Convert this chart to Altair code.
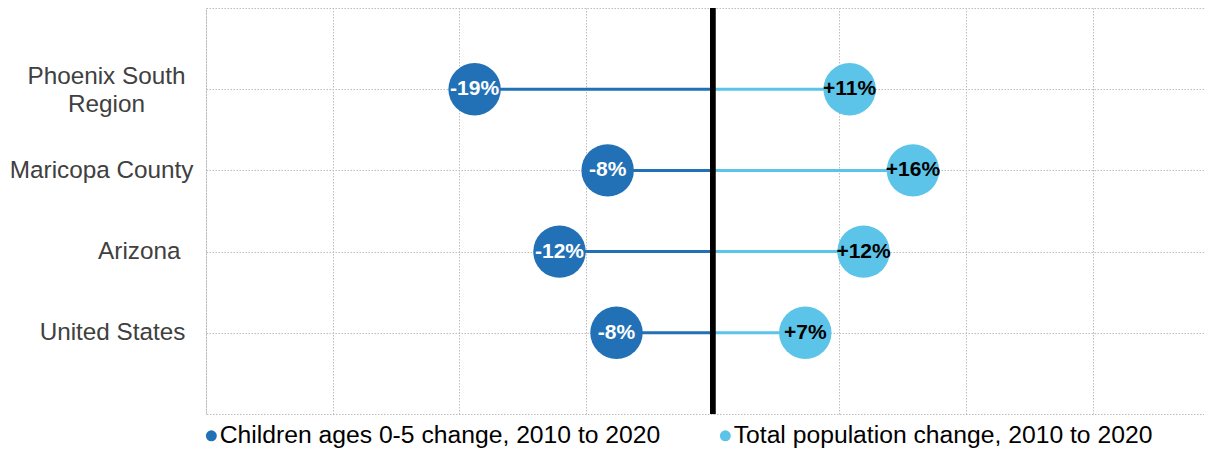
import altair as alt
import pandas as pd

regions = ["Phoenix South Region", "Maricopa County", "Arizona", "United States"]
children_change = [-18.8, -8.3, -12.1, -7.6]
total_change = [10.8, 15.8, 11.9, 7.3]
children_text = ["-19%", "-8%", "-12%", "-8%"]
total_text = ["+11%", "+16%", "+12%", "+7%"]
series_names = ["Children ages 0-5 change, 2010 to 2020",
                "Total population change, 2010 to 2020"]
grid_ticks = [-40, -30, -20, -10, 0, 10, 20, 30]

DARK = "#2271b7"
LIGHT = "#5bc4e8"
GRID = "#bdbdbd"

wide = pd.DataFrame({
    "region": regions,
    "children": children_change,
    "total": total_change,
    "ctext": children_text,
    "ttext": total_text,
})
long = pd.DataFrame({
    "region": regions + regions,
    "value": children_change + total_change,
    "series": [series_names[0]] * 4 + [series_names[1]] * 4,
})

xscale = alt.Scale(domain=[-40, 38.77], nice=False, zero=False)


def X(field):
    return alt.X(field, type="quantitative", scale=xscale, title=None,
                 axis=alt.Axis(labels=False, ticks=False, domain=False, grid=True,
                               values=grid_ticks, gridDash=[1.5, 1.5], gridColor=GRID,
                               gridWidth=1))


PH = "datum.value == 'Phoenix South Region'"
Y = alt.Y("region:N", sort=regions, title=None,
          scale=alt.Scale(type="point", padding=1),
          axis=alt.Axis(ticks=False, domain=False, grid=True, gridDash=[1.5, 1.5],
                        gridColor=GRID, labelFontSize=24.3, labelColor="#404040",
                        labelLineHeight=28, labelLimit=300,
                        labelAlign={"condition": {"test": PH, "value": "center"}, "value": "right"},
                        labelPadding={"condition": [
                            {"test": PH, "value": 100},
                            {"test": "datum.value == 'Maricopa County'", "value": 13},
                            {"test": "datum.value == 'Arizona'", "value": 26}],
                            "value": 21},
                        labelOffset={"condition": {"test": PH, "value": -13}, "value": 0},
                        labelExpr=PH + " ? ['Phoenix South', 'Region'] : datum.value"))

base = alt.Chart(wide)

seg_dark = base.mark_rule(strokeWidth=3, color=DARK).encode(
    x=X("children"), x2=alt.datum(0), y=Y)
seg_light = base.mark_rule(strokeWidth=3, color=LIGHT).encode(
    x=X("total"), x2=alt.datum(0), y=Y)
zero = base.mark_rule(strokeWidth=5, color="black").encode(x=alt.datum(0))

dots = alt.Chart(long).mark_circle(size=2750, opacity=1).encode(
    x=X("value"), y=Y,
    color=alt.Color("series:N",
                    scale=alt.Scale(domain=series_names, range=[DARK, LIGHT]),
                    legend=alt.Legend(title=None, orient="none", legendX=-7, legendY=415,
                                      direction="horizontal", symbolType="circle",
                                      symbolSize=120, labelFontSize=24.7, labelColor="black",
                                      labelLimit=1000, columnPadding=52,
                                      labelOffset={"expr": "-4"},
                                      symbolStrokeWidth=0)))

ctext = base.mark_text(fontSize=21, fontWeight="bold", color="white").encode(
    x=X("children"), y=Y, text="ctext:N")
ttext = base.mark_text(fontSize=21, fontWeight="bold", color="black").encode(
    x=X("total"), y=Y, text="ttext:N")

chart = alt.layer(seg_dark, seg_light, zero, dots, ctext, ttext).properties(
    width=998, height=406,
    autosize=alt.AutoSizeParams(type="none"),
    padding={"left": 198, "top": 0, "right": 0, "bottom": 34},
).configure(font="Liberation Sans").configure_view(
    stroke=GRID, strokeDash=[1.5, 1.5], strokeWidth=1)

chart.save("out.html", embed_options={"renderer": "svg", "actions": False})
